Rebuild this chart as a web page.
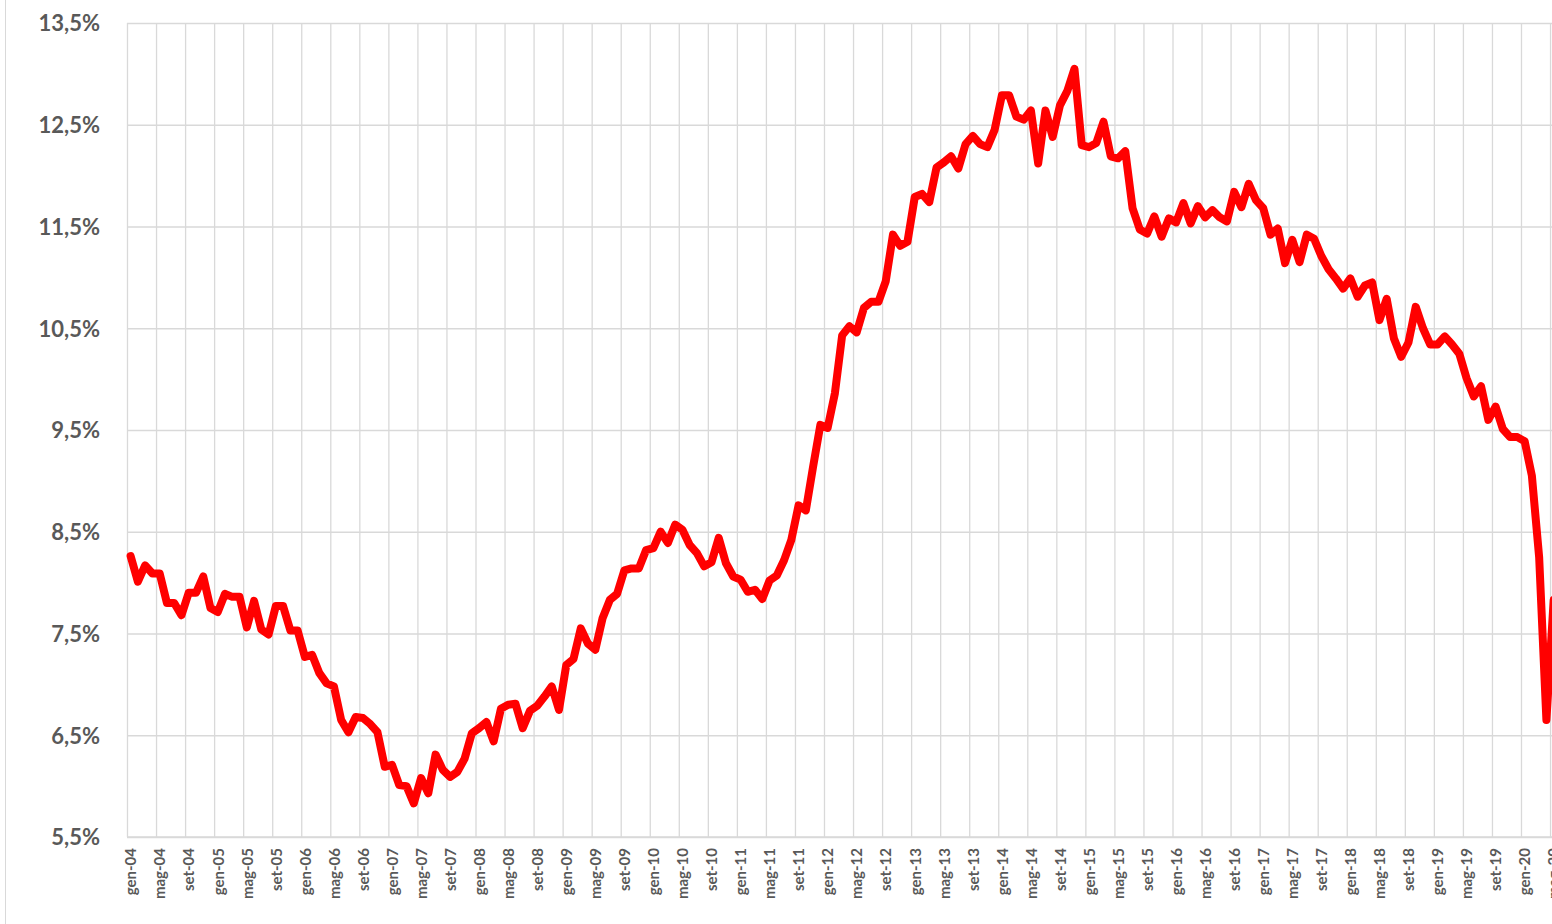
<!DOCTYPE html>
<html>
<head>
<meta charset="utf-8">
<script src="https://cdn.jsdelivr.net/npm/d3@7"></script>
<style>
  body { margin: 0; background: #fff; }
  .chart-section text { font-family: Lato, 'Open Sans', sans-serif; font-weight: bold; fill: #595959; }
</style>
</head>
<body>
<div class="chart-section"></div>
<script>
// monthly unemployment rate (%), gen-04 .. mag-20, one row per year
const rate = [
  8.26, 8.01, 8.17, 8.09, 8.09, 7.80, 7.80, 7.68, 7.90, 7.90, 8.06, 7.75,
  7.71, 7.89, 7.86, 7.86, 7.56, 7.82, 7.54, 7.49, 7.77, 7.77, 7.53, 7.53,
  7.27, 7.29, 7.11, 7.01, 6.98, 6.65, 6.53, 6.68, 6.67, 6.61, 6.53, 6.19,
  6.21, 6.01, 6.00, 5.83, 6.08, 5.93, 6.31, 6.16, 6.09, 6.14, 6.27, 6.52,
  6.57, 6.63, 6.44, 6.76, 6.80, 6.81, 6.57, 6.74, 6.79, 6.88, 6.98, 6.75,
  7.19, 7.25, 7.55, 7.40, 7.34, 7.65, 7.83, 7.89, 8.12, 8.14, 8.14, 8.32,
  8.34, 8.50, 8.39, 8.57, 8.52, 8.37, 8.29, 8.16, 8.20, 8.44, 8.19, 8.06,
  8.03, 7.91, 7.93, 7.84, 8.02, 8.07, 8.22, 8.42, 8.76, 8.71, 9.14, 9.55,
  9.52, 9.86, 10.43, 10.52, 10.46, 10.70, 10.76, 10.76, 10.96, 11.42, 11.31, 11.35,
  11.79, 11.82, 11.74, 12.08, 12.13, 12.19, 12.07, 12.31, 12.39, 12.31, 12.28, 12.45,
  12.79, 12.79, 12.58, 12.55, 12.64, 12.12, 12.64, 12.38, 12.69, 12.83, 13.05, 12.30,
  12.28, 12.32, 12.53, 12.19, 12.17, 12.24, 11.68, 11.47, 11.43, 11.60, 11.40, 11.58,
  11.54, 11.73, 11.53, 11.70, 11.59, 11.66, 11.59, 11.55, 11.84, 11.69, 11.92, 11.76,
  11.68, 11.42, 11.48, 11.14, 11.37, 11.15, 11.42, 11.38, 11.21, 11.08, 10.99, 10.89,
  10.99, 10.81, 10.92, 10.95, 10.58, 10.79, 10.40, 10.22, 10.36, 10.71, 10.50, 10.34,
  10.34, 10.42, 10.34, 10.25, 10.01, 9.83, 9.93, 9.60, 9.73, 9.51, 9.43, 9.43,
  9.39, 9.05, 8.25, 6.65, 7.83
];

// category labels shown on the axis (every 4th month)
const tickLabels = [
  'gen-04', 'mag-04', 'set-04', 'gen-05', 'mag-05', 'set-05',
  'gen-06', 'mag-06', 'set-06', 'gen-07', 'mag-07', 'set-07',
  'gen-08', 'mag-08', 'set-08', 'gen-09', 'mag-09', 'set-09',
  'gen-10', 'mag-10', 'set-10', 'gen-11', 'mag-11', 'set-11',
  'gen-12', 'mag-12', 'set-12', 'gen-13', 'mag-13', 'set-13',
  'gen-14', 'mag-14', 'set-14', 'gen-15', 'mag-15', 'set-15',
  'gen-16', 'mag-16', 'set-16', 'gen-17', 'mag-17', 'set-17',
  'gen-18', 'mag-18', 'set-18', 'gen-19', 'mag-19', 'set-19',
  'gen-20', 'mag-20'
];
const tickStep = 4;

const yTicks = [5.5, 6.5, 7.5, 8.5, 9.5, 10.5, 11.5, 12.5, 13.5];

const size = { width: 1552, height: 924 };
const margin = { top: 23, left: 127, bottom: 87 };
const monthW = 7.2604;
// categories sit between the gridlines, like excel's "between tick marks"
const plotW = rate.length * monthW;
const plotH = size.height - margin.top - margin.bottom;

const itFormat = d3.formatLocale({ decimal: ',', thousands: '.', grouping: [3], currency: ['€', ''] });
const pct = v => itFormat.format('.1f')(v) + '%';

const svg = d3
  .select('.chart-section')
  .append('svg')
  .attr('width', size.width)
  .attr('height', size.height);

// chart area border on the left
svg
  .append('line')
  .attr('x1', 5.5)
  .attr('x2', 5.5)
  .attr('y1', 0)
  .attr('y2', size.height)
  .attr('stroke', '#d9d9d9');

const g = svg
  .append('g')
  .attr('transform', `translate(${margin.left},${margin.top})`);

const xScale = d3
  .scaleLinear()
  .domain([0, rate.length])
  .range([0, plotW]);

const yScale = d3
  .scaleLinear()
  .domain([5.5, 13.5])
  .range([plotH, 0]);

// y axis + horizontal gridlines
const yAxis = d3
  .axisLeft(yScale)
  .tickValues(yTicks)
  .tickSize(-plotW)
  .tickPadding(27)
  .tickFormat(pct);

const drawnY = g.append('g').attr('class', 'yaxis').call(yAxis);
drawnY.select('.domain').remove();
drawnY.selectAll('line').attr('stroke', '#d9d9d9').attr('stroke-width', 1.3);
drawnY.selectAll('text').style('font-size', '22px').attr('dy', '0.36em');

// x axis + vertical gridlines on category boundaries
const xAxis = d3
  .axisBottom(xScale)
  .tickValues(tickLabels.map((d, i) => i * tickStep))
  .tickSize(-plotH)
  .tickFormat((d, i) => tickLabels[i]);

const drawnX = g
  .append('g')
  .attr('class', 'xaxis')
  .attr('transform', `translate(0,${plotH})`)
  .call(xAxis);

drawnX.select('.domain').remove();
drawnX.selectAll('line').attr('stroke', '#d9d9d9').attr('stroke-width', 1.3);
drawnX
  .selectAll('text')
  .style('font-size', '15px')
  .style('text-anchor', 'end')
  .attr('x', -11)
  .attr('y', monthW / 2)
  .attr('dy', '0.35em')
  .attr('transform', 'rotate(-90)');

// bottom axis line
g.append('line')
  .attr('x1', 0)
  .attr('x2', plotW)
  .attr('y1', plotH)
  .attr('y2', plotH)
  .attr('stroke', '#d9d9d9')
  .attr('stroke-width', 1.5);

const line = d3
  .line()
  .x((d, i) => xScale(i + 0.5))
  .y(d => yScale(d));

g.append('path')
  .datum(rate)
  .attr('d', line)
  .attr('fill', 'none')
  .attr('stroke', '#ff0000')
  .attr('stroke-width', 8)
  .attr('stroke-linejoin', 'round')
  .attr('stroke-linecap', 'round');
</script>
</body>
</html>
